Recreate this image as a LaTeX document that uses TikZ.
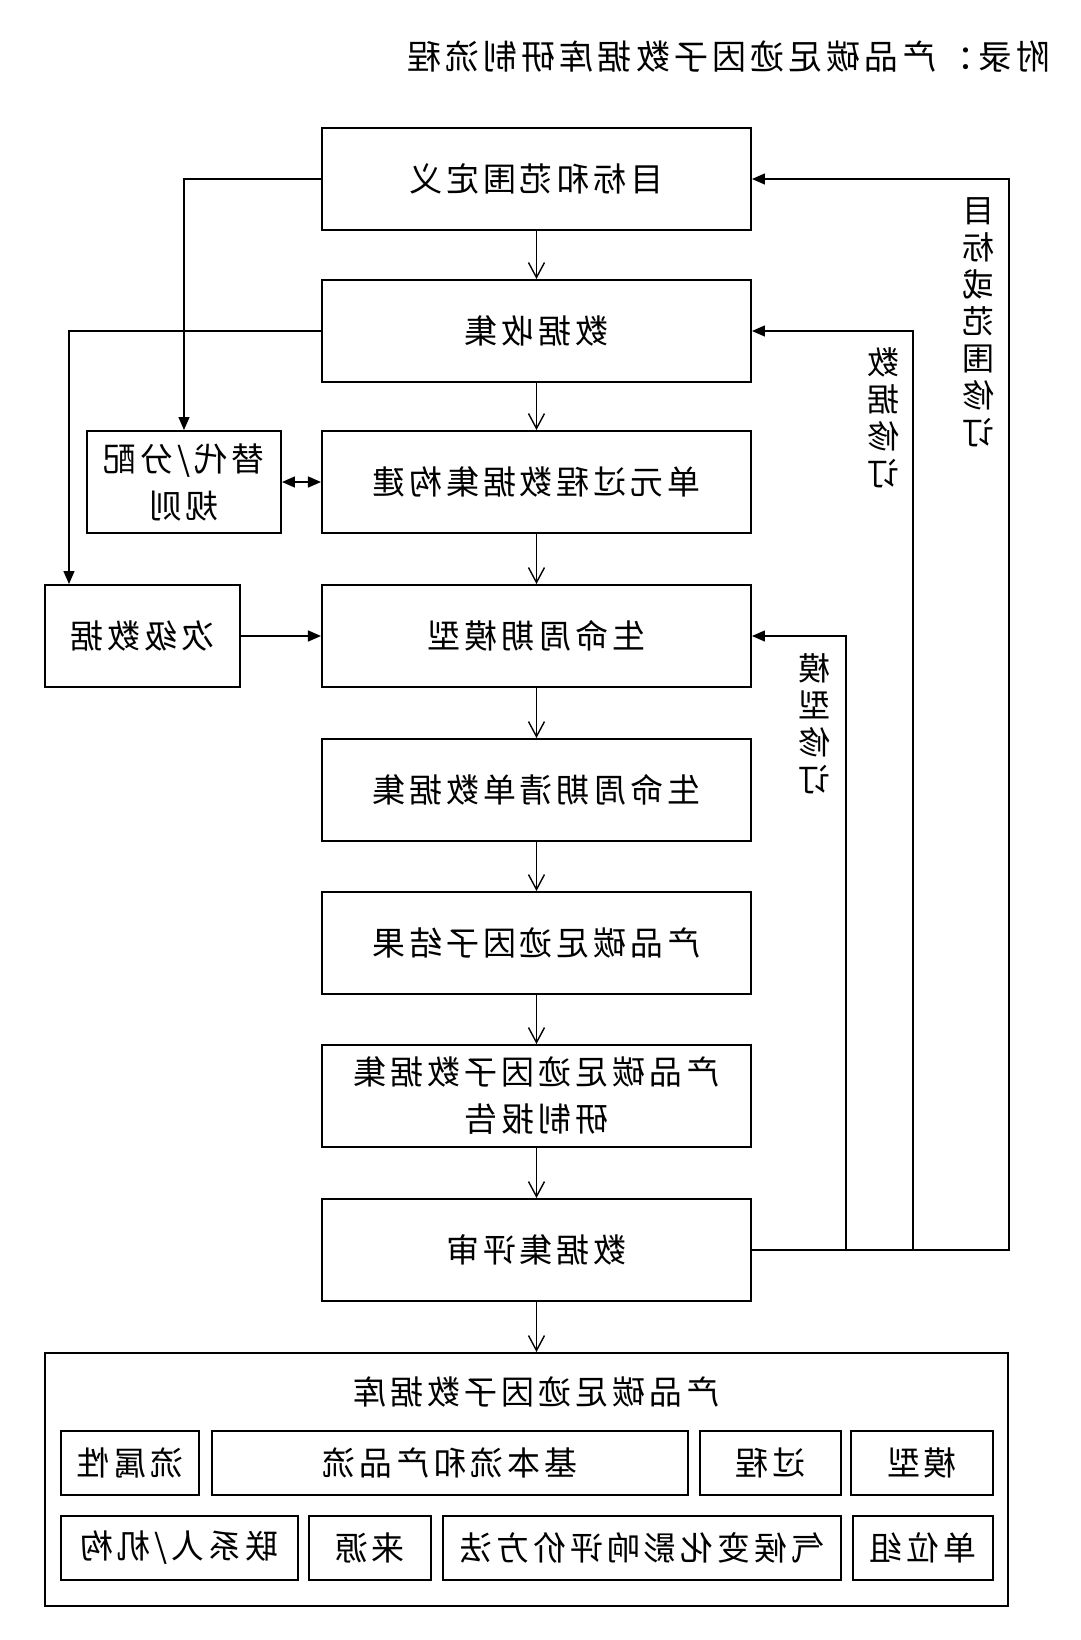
\documentclass[tikz,border=0pt]{standalone}
\usepackage{fontspec}
\newfontfamily\cjk{Noto Sans CJK SC}[LetterSpace=12.0]
\usetikzlibrary{positioning, calc, arrows.meta}

\begin{document}
\begin{tikzpicture}[x=1pt, y=-1pt, xscale=-1, transform shape,
    every node/.style={font=\cjk\fontsize{33}{47}\selectfont, align=center, inner sep=0pt},
    blk/.style={draw, line width=2pt, minimum width=429pt, minimum height=102pt},
    sidebox/.style={draw, line width=2pt, minimum width=194pt, minimum height=102pt},
    cell/.style={draw, line width=2pt, minimum height=64pt},
    flow/.style={line width=1.4pt, -{Straight Barb[length=15pt, width=16pt, line width=1.4pt]}},
    side/.style={line width=1.4pt, -{Triangle[length=13pt, width=11pt]}},
    both/.style={line width=1.4pt, {Triangle[length=13pt, width=11pt]}-{Triangle[length=13pt, width=11pt]}},
    vlabel/.style={font=\cjk\fontsize{32}{37}\selectfont}]
    \useasboundingbox (0,0) rectangle (1080,1640);

    \node[anchor=west, font=\cjk\fontsize{34}{40}\selectfont] (title) at (29,57) {附录：产品碳足迹因子数据库研制流程};

    \node[blk] (b1) at (543.5,179) {目标和范围定义};
    \node[blk] (b2) at (543.5,331) {数据收集};
    \node[blk] (b3) at (543.5,482) {单元过程数据集构建};
    \node[blk] (b4) at (543.5,636) {生命周期模型};
    \node[blk] (b5) at (543.5,790) {生命周期清单数据集};
    \node[blk] (b6) at (543.5,943) {产品碳足迹因子结果};
    \node[blk] (b7) at (543.5,1096) {产品碳足迹因子数据集\\研制报告};
    \node[blk] (b8) at (543.5,1250) {数据集评审};

    \node[sidebox] (rule) at (896,482) {替代/分配\\规则};
    \node[sidebox, minimum width=195pt] (sec) at (937.5,636) {次级数据};

    \node[draw, line width=2pt, minimum width=963pt, minimum height=253pt] (db) at (553.5,1479.5) {};
    \node (dbt) at (543.5,1392) {产品碳足迹因子数据库};
    \node[cell, minimum width=138pt] (c11) at (950,1463) {流属性};
    \node[cell, minimum width=476pt] (c12) at (630,1463) {基本流和产品流};
    \node[cell, minimum width=141pt] (c13) at (309.5,1463) {过程};
    \node[cell, minimum width=142pt] (c14) at (158,1463) {模型};
    \node[cell, minimum width=237pt] (c21) at (900.5,1548) {联系人/机构};
    \node[cell, minimum width=122pt] (c22) at (710,1548) {来源};
    \node[cell, minimum width=398pt] (c23) at (438,1548) {气候变化影响评价方法};
    \node[cell, minimum width=140pt] (c24) at (157,1548) {单位组};

    \foreach \a/\b in {b1/b2, b2/b3, b3/b4, b4/b5, b5/b6, b6/b7, b7/b8}
        \draw[flow] (\a) -- (\b);
    \draw[flow] (b8) -- (b8.south |- db.north);

    \draw[side] (b1.east) -| (rule.north);
    \draw[side] (b2.east) -| ($(sec.north east)+(-25,0)$);
    \draw[both] (rule.west) -- (b3.east);
    \draw[side] (sec.west) -- (b4.east);

    % revision loops
    \coordinate (fo) at (71,1250);
    \coordinate (fm) at (167,1250);
    \coordinate (fi) at (234,1250);
    \draw[side] (b8.west) -- (fo) |- (b1.west);
    \draw[side] (fm) |- (b2.west);
    \draw[side] (fi) |- (b4.west);

    \node[vlabel] (l1) at (102,322) {目\\标\\或\\范\\围\\修\\订};
    \node[vlabel] (l2) at (196,418) {数\\据\\修\\订};
    \node[vlabel] (l3) at (265,724) {模\\型\\修\\订};
\end{tikzpicture}
\end{document}
